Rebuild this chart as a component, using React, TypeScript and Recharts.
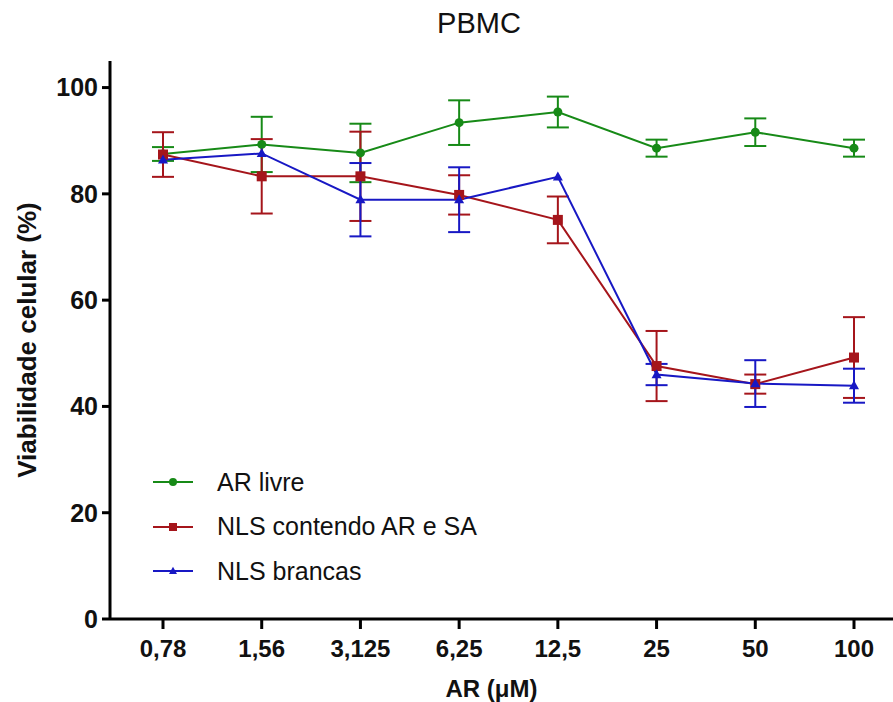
import { LineChart, Line, XAxis, YAxis, ErrorBar, Legend } from "recharts";

const concentrations = ["0,78", "1,56", "3,125", "6,25", "12,5", "25", "50", "100"];
const arLivre = [87.5, 89.3, 87.7, 93.4, 95.4, 88.6, 91.6, 88.6];
const arLivreErr = [1.3, 5.2, 5.5, 4.2, 2.9, 1.6, 2.6, 1.6];
const nlsArSa = [87.4, 83.3, 83.3, 79.8, 75.1, 47.6, 44.2, 49.2];
const nlsArSaErr = [4.2, 7.0, 8.4, 3.7, 4.4, 6.6, 1.8, 7.6];
const nlsBrancas = [86.4, 87.6, 78.9, 78.9, 83.2, 46.0, 44.3, 43.9];
const nlsBrancasErr = [null, null, 6.9, 6.1, null, 2.0, 4.4, 3.2];
const yTicks = [0, 20, 40, 60, 80, 100];
const legendOrder = ["arLivre", "nlsArSa", "nlsBrancas"];

const GREEN = "#178a17";
const RED = "#a5151b";
const BLUE = "#1818c4";
const FONT = '"Liberation Sans", Arial, sans-serif';

const data = concentrations.map((c, i) => ({
  conc: c,
  arLivre: arLivre[i],
  arLivreErr: arLivreErr[i],
  nlsArSa: nlsArSa[i],
  nlsArSaErr: nlsArSaErr[i],
  nlsBrancas: nlsBrancas[i],
  nlsBrancasErr: nlsBrancasErr[i],
}));

// marker shapes, drawn around the point the library hands us
function Marker({ shape, cx, cy, color, size }: any) {
  if (cx == null || cy == null) return null;
  if (shape === "square") {
    return <rect x={cx - size / 2} y={cy - size / 2} width={size} height={size} fill={color} />;
  }
  if (shape === "triangle") {
    const h = size * 0.9;
    return (
      <polygon
        points={`${cx},${cy - h * 0.6} ${cx - size / 2},${cy + h * 0.4} ${cx + size / 2},${cy + h * 0.4}`}
        fill={color}
      />
    );
  }
  return <circle cx={cx} cy={cy} r={size / 2} fill={color} />;
}

const shapeOf: Record<string, string> = {
  arLivre: "circle",
  nlsArSa: "square",
  nlsBrancas: "triangle",
};

const dotFor = (shape: string, color: string, size: number) => (props: any) => (
  <Marker key={`${shape}-${props.index}`} shape={shape} cx={props.cx} cy={props.cy} color={color} size={size} />
);

function LegendContent({ payload }: any) {
  const items = [...(payload || [])].sort(
    (a: any, b: any) => legendOrder.indexOf(a.dataKey) - legendOrder.indexOf(b.dataKey)
  );
  return (
    <div style={{ fontFamily: FONT, fontSize: 25, color: "#111" }}>
      {items.map((item: any) => (
        <div key={item.dataKey} style={{ display: "flex", alignItems: "center", height: 44.5 }}>
          <svg width={66} height={20} style={{ flexShrink: 0 }}>
            <line x1={2} x2={42} y1={10} y2={10} stroke={item.color} strokeWidth={2} />
            <Marker shape={shapeOf[item.dataKey]} cx={22} cy={10} color={item.color} size={8} />
          </svg>
          <span>{item.value}</span>
        </div>
      ))}
    </div>
  );
}

export default function App() {
  return (
    <div style={{ position: "absolute", left: 0, top: 0, width: 893, height: 702, background: "#fff" }}>
      <div
        style={{
          position: "absolute",
          left: 379,
          top: 9,
          width: 200,
          textAlign: "center",
          fontFamily: FONT,
          fontSize: 29,
          lineHeight: "29px",
          color: "#111",
        }}
      >
        PBMC
      </div>
      <LineChart width={893} height={702} data={data} margin={{ top: 61, right: 0, bottom: 0, left: 0 }}>
        <XAxis
          dataKey="conc"
          height={83}
          padding={{ left: 53, right: 39 }}
          stroke="#000"
          strokeWidth={3}
          tickSize={10}
          tickMargin={11}
          tick={{ fill: "#111", fontSize: 24, fontWeight: "bold", fontFamily: FONT }}
          label={{
            value: "AR (μM)",
            position: "insideBottom",
            offset: 5,
            dx: -10,
            style: { fill: "#111", fontSize: 24, fontWeight: "bold", fontFamily: FONT },
          }}
        />
        <YAxis
          width={110}
          domain={[0, 105]}
          ticks={yTicks}
          stroke="#000"
          strokeWidth={3}
          tickSize={8}
          tickMargin={4}
          tick={{ fill: "#111", fontSize: 25, fontWeight: "bold", fontFamily: FONT }}
          label={{
            value: "Viabilidade celular (%)",
            angle: -90,
            position: "insideLeft",
            offset: 27,
            style: { textAnchor: "middle", fill: "#111", fontSize: 26, fontWeight: "bold", fontFamily: FONT },
          }}
        />
        <Legend
          layout="vertical"
          align="center"
          verticalAlign="middle"
          wrapperStyle={{ left: 151, top: 460, width: 450 }}
          content={LegendContent}
        />
        <Line
          dataKey="arLivre"
          name="AR livre"
          stroke={GREEN}
          strokeWidth={2}
          dot={dotFor("circle", GREEN, 9)}
          activeDot={false}
          isAnimationActive={false}
        >
          <ErrorBar dataKey="arLivreErr" width={11} strokeWidth={2} stroke={GREEN} direction="y" />
        </Line>
        <Line
          dataKey="nlsArSa"
          name="NLS contendo AR e SA"
          stroke={RED}
          strokeWidth={2}
          dot={dotFor("square", RED, 10)}
          activeDot={false}
          isAnimationActive={false}
        >
          <ErrorBar dataKey="nlsArSaErr" width={11} strokeWidth={2} stroke={RED} direction="y" />
        </Line>
        <Line
          dataKey="nlsBrancas"
          name="NLS brancas"
          stroke={BLUE}
          strokeWidth={2}
          dot={dotFor("triangle", BLUE, 10)}
          activeDot={false}
          isAnimationActive={false}
        >
          <ErrorBar dataKey="nlsBrancasErr" width={11} strokeWidth={2} stroke={BLUE} direction="y" />
        </Line>
      </LineChart>
    </div>
  );
}
